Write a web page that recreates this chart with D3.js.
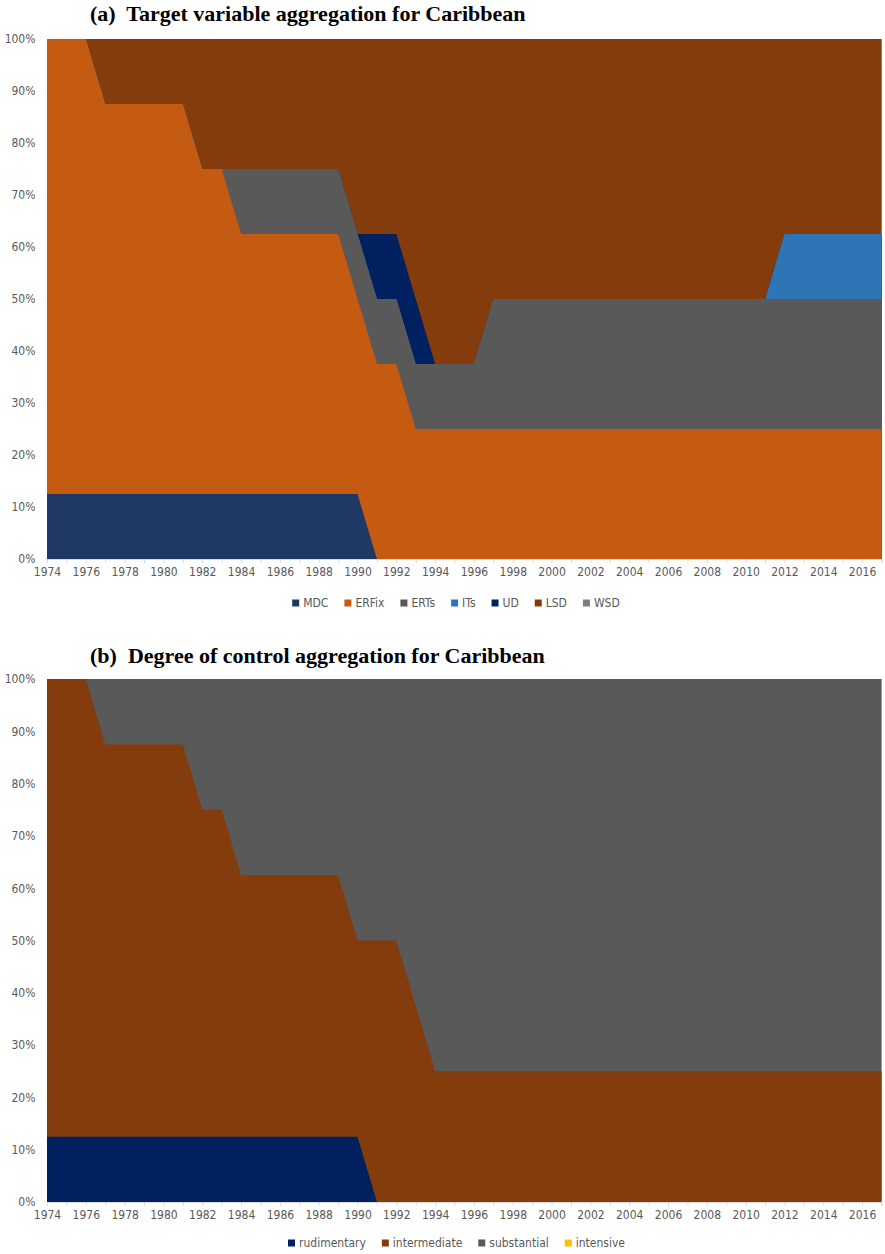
<!DOCTYPE html>
<html><head><meta charset="utf-8">
<script src="https://cdn.jsdelivr.net/npm/d3@7"></script>
<style>
body{margin:0;background:#fff}
text{font-family:"DejaVu Sans Condensed","DejaVu Sans",sans-serif}
.title{font-family:"Liberation Serif","Times New Roman",serif;font-weight:bold;white-space:pre}
</style>
</head><body><svg id="c" width="885" height="1254"></svg>
<script>
// ---- categories ----
const years = [1974,1975,1976,1977,1978,1979,1980,1981,1982,1983,1984,1985,1986,1987,1988,1989,1990,1991,1992,1993,1994,1995,1996,1997,1998,1999,2000,2001,2002,2003,2004,2005,2006,2007,2008,2009,2010,2011,2012,2013,2014,2015,2016,2017];
const xTickLabels = [1974,1976,1978,1980,1982,1984,1986,1988,1990,1992,1994,1996,1998,2000,2002,2004,2006,2008,2010,2012,2014,2016];
const yTickLabels = [0,0.1,0.2,0.3,0.4,0.5,0.6,0.7,0.8,0.9,1];

// ---- (a) target variable: number of countries per regime (out of 8) ----
const keysA = ["MDC","ERFix","ERTs","ITs","UD","LSD","WSD"];
const MDC   = [1,1,1,1,1,1,1,1,1,1,1,1,1,1,1,1,1,0,0,0,0,0,0,0,0,0,0,0,0,0,0,0,0,0,0,0,0,0,0,0,0,0,0,0];
const ERFix = [7,7,7,6,6,6,6,6,5,5,4,4,4,4,4,4,3,3,3,2,2,2,2,2,2,2,2,2,2,2,2,2,2,2,2,2,2,2,2,2,2,2,2,2];
const ERTs  = [0,0,0,0,0,0,0,0,0,0,1,1,1,1,1,1,1,1,1,1,1,1,1,2,2,2,2,2,2,2,2,2,2,2,2,2,2,2,2,2,2,2,2,2];
const ITs   = [0,0,0,0,0,0,0,0,0,0,0,0,0,0,0,0,0,0,0,0,0,0,0,0,0,0,0,0,0,0,0,0,0,0,0,0,0,0,1,1,1,1,1,1];
const UD    = [0,0,0,0,0,0,0,0,0,0,0,0,0,0,0,0,0,1,1,1,0,0,0,0,0,0,0,0,0,0,0,0,0,0,0,0,0,0,0,0,0,0,0,0];
const LSD   = [0,0,0,1,1,1,1,1,2,2,2,2,2,2,2,2,3,3,3,4,5,5,5,4,4,4,4,4,4,4,4,4,4,4,4,4,4,4,3,3,3,3,3,3];
const WSD   = [0,0,0,0,0,0,0,0,0,0,0,0,0,0,0,0,0,0,0,0,0,0,0,0,0,0,0,0,0,0,0,0,0,0,0,0,0,0,0,0,0,0,0,0];
const colorsA = ["#203864","#C55A11","#595959","#2E75B6","#002060","#843C0C","#7F7F7F"];

// ---- (b) degree of control ----
const keysB = ["rudimentary","intermediate","substantial","intensive"];
const rudimentary  = [1,1,1,1,1,1,1,1,1,1,1,1,1,1,1,1,1,0,0,0,0,0,0,0,0,0,0,0,0,0,0,0,0,0,0,0,0,0,0,0,0,0,0,0];
const intermediate = [7,7,7,6,6,6,6,6,5,5,4,4,4,4,4,4,3,4,4,3,2,2,2,2,2,2,2,2,2,2,2,2,2,2,2,2,2,2,2,2,2,2,2,2];
const substantial  = [0,0,0,1,1,1,1,1,2,2,3,3,3,3,3,3,4,4,4,5,6,6,6,6,6,6,6,6,6,6,6,6,6,6,6,6,6,6,6,6,6,6,6,6];
const intensive    = [0,0,0,0,0,0,0,0,0,0,0,0,0,0,0,0,0,0,0,0,0,0,0,0,0,0,0,0,0,0,0,0,0,0,0,0,0,0,0,0,0,0,0,0];
const colorsB = ["#002060","#843C0C","#595959","#FFC000"];

const svg = d3.select("#c");
svg.append("rect").attr("width",885).attr("height",1254).attr("fill","#fff");

function drawChart(o){
  const rows = years.map((y,i)=>{const r={year:y}; o.keys.forEach((k,j)=>r[k]=o.series[j][i]); return r;});
  const stack = d3.stack().keys(o.keys).offset(d3.stackOffsetExpand);
  const layers = stack(rows);
  const x = d3.scaleLinear().domain([years[0], years[years.length-1]]).range([47, 881.5]);
  const y = d3.scaleLinear().domain([0,1]).range([o.bottom, o.top]);
  const g = svg.append("g");
  // draw cumulative areas from top series down so no seams appear
  const area = d3.area().x(d=>x(d.data.year)).y0(y(0)).y1(d=>y(d[1]));
  layers.slice().reverse().forEach(l=>{
    g.append("path").datum(l).attr("d",area).attr("fill",o.colors[l.index]);
  });
  // y labels
  g.selectAll(".yl").data(yTickLabels).enter().append("text")
    .attr("x",35.5).attr("y",d=>y(d)).attr("dy","0.36em").attr("text-anchor","end")
    .attr("fill","#595959").attr("font-size","12px").text(d3.format(".0%"));
  // x axis line & ticks
  const ax = g.append("g").attr("transform",`translate(0,${o.bottom})`)
    .call(d3.axisBottom(x).tickValues(years).tickSize(4).tickFormat(""));
  ax.selectAll("line,path").attr("stroke","#d9d9d9");
  const ax2 = g.append("g").attr("transform",`translate(0,${o.bottom})`)
    .call(d3.axisBottom(x).tickValues(xTickLabels).tickSize(0).tickPadding(13).tickFormat(d3.format("d")));
  ax2.select("path").remove();
  ax2.selectAll("text").attr("fill","#595959").attr("font-size","12px").attr("dy","0.35em")
    .style("font-family","'DejaVu Sans Condensed',sans-serif");
  // title
  svg.append("text").attr("class","title").attr("x",90).attr("y",o.titleY)
    .attr("font-size","22px").attr("fill","#000").text(o.title);
  // legend
  const lg = svg.append("g");
  let cx = 0;
  o.keys.forEach((k,i)=>{
    const it = lg.append("g").attr("transform",`translate(${cx},0)`);
    it.append("rect").attr("x",0).attr("y",-3.5).attr("width",7).attr("height",7).attr("fill",o.colors[i]);
    const t = it.append("text").attr("x",11).attr("y",0).attr("dy","0.35em")
      .attr("fill","#595959").attr("font-size","12px").text(k);
    cx += 11 + t.node().getComputedTextLength() + 16;
  });
  const w = cx - 16;
  lg.attr("transform",`translate(${o.legendCenter - w/2},${o.legendY})`);
}

drawChart({keys:keysA, series:[MDC,ERFix,ERTs,ITs,UD,LSD,WSD], colors:colorsA,
  top:39, bottom:559, title:"(a)  Target variable aggregation for Caribbean", titleY:21,
  legendY:603, legendCenter:456});
drawChart({keys:keysB, series:[rudimentary,intermediate,substantial,intensive], colors:colorsB,
  top:679, bottom:1202, title:"(b)  Degree of control aggregation for Caribbean", titleY:663,
  legendY:1243, legendCenter:456.5});
</script>
</body></html>
